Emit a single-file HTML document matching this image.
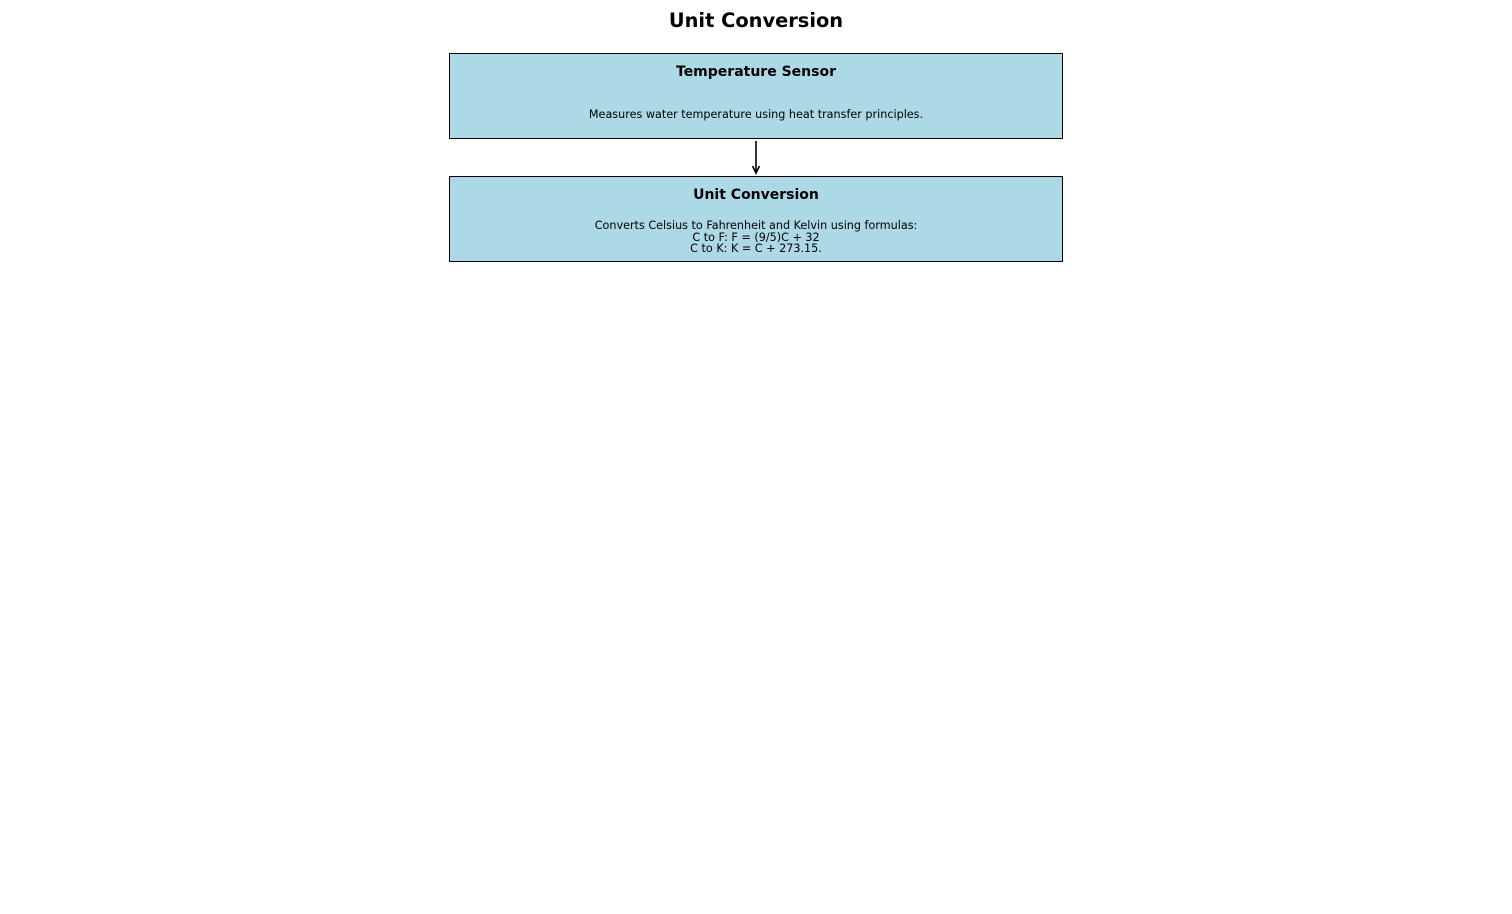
<!DOCTYPE html>
<html><head><meta charset="utf-8"><style>html,body{margin:0;padding:0;background:#fff}</style></head>
<body>
<svg width="1512" height="909" xmlns="http://www.w3.org/2000/svg" font-family="DejaVu Sans, Liberation Sans, sans-serif">
<text x="756" y="27" text-anchor="middle" font-size="19.4" font-weight="bold">Unit Conversion</text>
<rect x="449.5" y="53.5" width="613" height="85" fill="#add8e6" stroke="#000" stroke-width="1"/>
<text x="756" y="76" text-anchor="middle" font-size="14" font-weight="bold">Temperature Sensor</text>
<text x="756" y="118" text-anchor="middle" font-size="11.2">Measures water temperature using heat transfer principles.</text>
<line x1="756" y1="141" x2="756" y2="171" stroke="#000" stroke-width="1.6"/>
<path d="M752.5 166 L756 173 L759.5 166" fill="none" stroke="#000" stroke-width="1.6"/>
<rect x="449.5" y="176.5" width="613" height="85" fill="#add8e6" stroke="#000" stroke-width="1"/>
<text x="756" y="199" text-anchor="middle" font-size="14" font-weight="bold">Unit Conversion</text>
<text x="756" y="229" text-anchor="middle" font-size="11.2">Converts Celsius to Fahrenheit and Kelvin using formulas:</text>
<text x="756" y="241" text-anchor="middle" font-size="11.2">C to F: F = (9/5)C + 32</text>
<text x="756" y="252" text-anchor="middle" font-size="11.2">C to K: K = C + 273.15.</text>
</svg>
</body></html>
